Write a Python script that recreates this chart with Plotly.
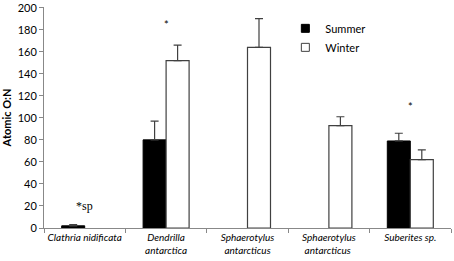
import plotly.graph_objects as go

categories = ["Clathria nidificata", "Dendrilla<br>antarctica", "Sphaerotylus<br>antarcticus",
              "Sphaerotylus<br>antarcticus ", "Suberites sp."]
summer = [2, 80, None, None, 79]
summer_err = [1, 17, 0, 0, 7]
winter = [None, 152, 164, 93, 62]
winter_err = [0, 14, 26, 8, 9]
y_ticks = [0, 20, 40, 60, 80, 100, 120, 140, 160, 180, 200]
marks = ["*sp", "*", "*"]
mark_cats = [categories[0], categories[1], categories[4]]
mark_y = [20, 185, 110]

fig = go.Figure()
fig.add_trace(go.Bar(
    name="Summer", x=categories, y=summer, showlegend=False,
    marker=dict(color="black", line=dict(color="black", width=1)),
    error_y=dict(type="data", symmetric=False, array=summer_err,
                 arrayminus=[0]*5, color="#404040", thickness=1.2, width=4),
))
fig.add_trace(go.Bar(
    name="Winter", x=categories, y=winter, showlegend=False,
    marker=dict(color="white", line=dict(color="#404040", width=1.2)),
    error_y=dict(type="data", symmetric=False, array=winter_err,
                 arrayminus=[0]*5, color="#404040", thickness=1.2, width=4),
))
# legend entries (small squares like the reference)
fig.add_trace(go.Scatter(name="Summer", x=[None], y=[None], mode="markers",
                         marker=dict(symbol="square", size=8, color="black",
                                     line=dict(color="black", width=1))))
fig.add_trace(go.Scatter(name="Winter", x=[None], y=[None], mode="markers",
                         marker=dict(symbol="square", size=8, color="white",
                                     line=dict(color="#404040", width=1))))

fonts = ["Liberation Serif", "Lato", "Lato"]
sizes = [12, 11, 11]
for t, c, yv, f, s in zip(marks, mark_cats, mark_y, fonts, sizes):
    fig.add_annotation(x=c, y=yv, text=t, showarrow=False,
                       font=dict(family=f, size=s, color="black"))

fig.update_layout(
    width=454, height=261,
    margin=dict(l=44, r=3, t=7, b=33, autoexpand=False),
    paper_bgcolor="white", plot_bgcolor="white",
    barmode="group", bargap=0.435, bargroupgap=0,
    font=dict(family="Lato", size=11, color="black"),
    legend=dict(x=0.593, y=0.969, xanchor="left", yanchor="top",
                bgcolor="rgba(0,0,0,0)", font=dict(size=11)),
    showlegend=True,
)
fig.update_xaxes(
    type="category", showline=True, linecolor="#888888", linewidth=1,
    ticks="outside", tickson="boundaries", ticklen=4, tickcolor="#888888",
    tickfont=dict(family="Lato", size=10, style="italic"), tickangle=0,
    showgrid=False, automargin=False,
)
fig.update_yaxes(
    range=[0, 200.6], tickvals=y_ticks, showline=True, linecolor="#888888",
    linewidth=1, ticks="outside", ticklen=4, tickcolor="#888888",
    showgrid=False, zeroline=False, automargin=False,
    title=dict(text="<b>Atomic O:N</b>", font=dict(size=11), standoff=6),
    tickfont=dict(size=11),
)
fig.write_html("out.html", config={"displayModeBar": False},
               post_script="document.body.style.margin='0';document.body.style.overflow='hidden';")
